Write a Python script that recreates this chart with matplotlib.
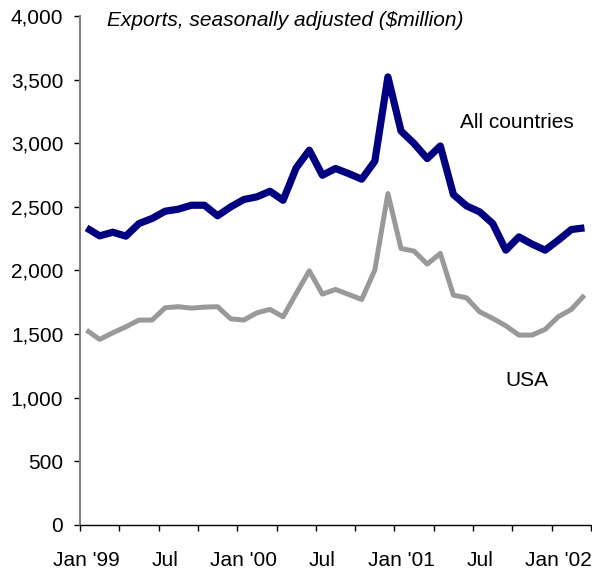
import matplotlib
matplotlib.use("Agg")
import matplotlib.pyplot as plt
import numpy as np

plt.rcParams['font.family'] = ['Liberation Sans', 'DejaVu Sans']

months = ["Jan '99","Feb","Mar","Apr","May","Jun","Jul","Aug","Sep","Oct","Nov","Dec",
          "Jan '00","Feb","Mar","Apr","May","Jun","Jul","Aug","Sep","Oct","Nov","Dec",
          "Jan '01","Feb","Mar","Apr","May","Jun","Jul","Aug","Sep","Oct","Nov","Dec",
          "Jan '02","Feb","Mar"]

all_countries = [2334, 2271, 2300, 2269, 2368, 2408, 2465, 2481, 2512, 2512, 2429, 2499,
                 2557, 2578, 2622, 2551, 2806, 2945, 2748, 2801, 2761, 2717, 2858, 3521,
                 3096, 2997, 2879, 2978, 2596, 2507, 2460, 2368, 2159, 2263, 2206, 2159,
                 2237, 2321, 2334]

usa = [1530, 1457, 1509, 1556, 1609, 1609, 1706, 1714, 1703, 1711, 1714, 1619,
       1609, 1666, 1693, 1635, 1818, 1996, 1813, 1850, 1811, 1771, 2002, 2604,
       2172, 2151, 2049, 2133, 1805, 1784, 1674, 1622, 1564, 1491, 1491, 1536,
       1635, 1693, 1805]

tick_labels = ["Jan '99", "Jul", "Jan '00", "Jul", "Jan '01", "Jul", "Jan '02"]
yticks = [0, 500, 1000, 1500, 2000, 2500, 3000, 3500, 4000]

W, H = 592, 570
fig = plt.figure(figsize=(W/100, H/100), dpi=100)
ax = fig.add_axes([80/W, 1-524.7/H, 511/W, (524.7-16)/H])

x = np.arange(len(months)) + 0.5
ax.plot(x, all_countries, color='#000080', lw=5.2, solid_joinstyle='round', solid_capstyle='butt')
ax.plot(x, usa, color='#999999', lw=3.6, solid_joinstyle='round', solid_capstyle='butt')

ax.set_xlim(0, len(months))
ax.set_ylim(0, 4000)

ax.set_xticks(np.arange(0, len(months) + 1, 3))
ax.set_xticklabels([])
ax.set_xticks(np.arange(0, len(months), 6) + 0.5, minor=True)
ax.set_xticklabels(tick_labels, minor=True)
ax.tick_params(axis='x', which='major', direction='out', length=4, width=1, color='black')
ax.tick_params(axis='x', which='minor', length=0, pad=19, labelsize=15)

ax.set_yticks(yticks)
ax.set_yticklabels([f"{v:,}" for v in yticks])
ax.tick_params(axis='y', direction='out', length=4, width=1, color='black', pad=8, labelsize=15)

for s in ['top', 'right']:
    ax.spines[s].set_visible(False)
ax.spines['left'].set_color('#808080')
ax.spines['left'].set_linewidth(1.5)
ax.spines['bottom'].set_color('black')
ax.spines['bottom'].set_linewidth(1.0)

fig.text(107/W, 1 - 20/H, "Exports, seasonally adjusted ($million)",
         fontsize=15, style='italic', ha='left', va='center')
fig.text(460/W, 1 - 123/H, "All countries", fontsize=15, ha='left', va='center')
fig.text(505/W, 1 - 380/H, "USA", fontsize=15, ha='left', va='center')

fig.savefig("out.png", dpi=100)
